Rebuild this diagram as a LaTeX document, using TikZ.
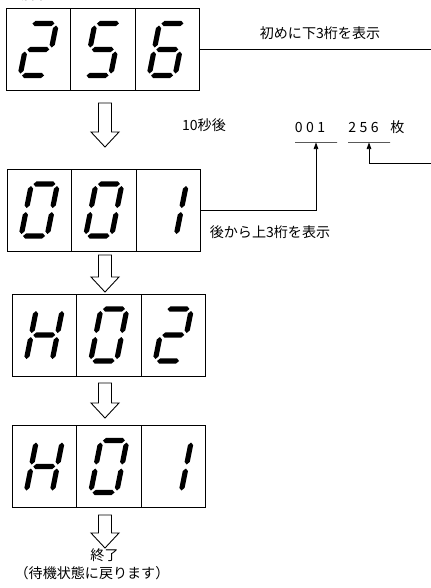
\documentclass[tikz,border=0pt]{standalone}
\usepackage{fontspec}
\setmainfont{Noto Sans CJK JP}
\usetikzlibrary{arrows.meta,positioning}

\tikzset{
  cell/.style={draw, line width=0.75pt, minimum width=1.935cm, minimum height=2.46cm,
    inner sep=0pt, outer sep=0pt},
  conn/.style={line width=0.7pt},
  tip/.style={-{Triangle[length=2mm,width=1.4mm]}},
  uline/.style={draw, line width=0.7pt, minimum width=1.26cm, minimum height=0pt, inner sep=0pt},
  lbl/.style={font=\fontsize{12pt}{14pt}\selectfont, inner sep=0pt},
  pics/fatarrow/.style={code={
    \draw[line width=0.75pt, fill=white] (-6.5,0) -- (6.5,0) -- (6.5,#1-15) -- (14,#1-15)
      -- (0,#1) -- (-14,#1-15) -- (-6.5,#1-15) -- cycle;}}
}

% lit segments of a seven-segment digit
\newcommand\hseg[1]{\fill (-11,#1) -- (-8.4,#1-2.6) -- (8.4,#1-2.6) -- (11,#1) -- (8.4,#1+2.6) -- (-8.4,#1+2.6) -- cycle;}
\newcommand\vseg[2]{\fill (#1,#2-11) -- (#1+2.6,#2-8.4) -- (#1+2.6,#2+8.4) -- (#1,#2+11) -- (#1-2.6,#2+8.4) -- (#1-2.6,#2-8.4) -- cycle;}
\newcommand\segA{\hseg{-26}}
\newcommand\segB{\vseg{13}{-13}}
\newcommand\segC{\vseg{13}{13}}
\newcommand\segD{\hseg{26}}
\newcommand\segE{\vseg{-13}{13}}
\newcommand\segF{\vseg{-13}{-13}}
\newcommand\segG{\hseg{0}}
\newcommand\sevenseg[2]{\begin{scope}[shift={(#1.center)}, xslant=0.2]
  \foreach \s in {#2} {\csname seg\s\endcsname}
\end{scope}}

\begin{document}
\begin{tikzpicture}[x=0.03cm, y=-0.03cm]
  \useasboundingbox (0,0) rectangle (431,588);

  \node[lbl, font=\fontsize{13pt}{15pt}\selectfont, anchor=base east] (cap) at (60,0) {した場合。};

  % display 1: 256
  \node[cell] (a1) at (38.25,49.5) {};
  \node[cell, right=0pt of a1] (a2) {};
  \node[cell, right=0pt of a2] (a3) {};
  \sevenseg{a1}{A,B,G,E,D}
  \sevenseg{a2}{A,F,G,C,D}
  \sevenseg{a3}{A,F,G,E,D,C}

  % display 2: 001
  \node[cell] (b1) at (39.25,210) {};
  \node[cell, right=0pt of b1] (b2) {};
  \node[cell, right=0pt of b2] (b3) {};
  \sevenseg{b1}{A,B,C,D,E,F}
  \sevenseg{b2}{A,B,C,D,E,F}
  \sevenseg{b3}{B,C}

  % display 3: H02
  \node[cell] (c1) at (44.25,335) {};
  \node[cell, right=0pt of c1] (c2) {};
  \node[cell, right=0pt of c2] (c3) {};
  \sevenseg{c1}{B,C,E,F,G}
  \sevenseg{c2}{A,B,C,D,E,F}
  \sevenseg{c3}{A,B,G,E,D}

  % display 4: H01
  \node[cell] (d1) at (44.25,466.5) {};
  \node[cell, right=0pt of d1] (d2) {};
  \node[cell, right=0pt of d2] (d3) {};
  \sevenseg{d1}{B,C,E,F,G}
  \sevenseg{d2}{A,B,C,D,E,F}
  \sevenseg{d3}{B,C}

  \pic (arr1) at (105,103) {fatarrow=44};
  \pic (arr2) at (105,255) {fatarrow=37};
  \pic (arr3) at (105,383) {fatarrow=35};
  \pic (arr4) at (105,515) {fatarrow=33};

  \node[lbl] (first) at (320,33) {初めに下3桁を表示};
  \node[lbl] (wait) at (204,125) {10秒後};
  \node[lbl] (hi) at (310,127) {0\hspace{3pt}0\hspace{3pt}1};
  \node[lbl] (lo) at (363.5,127) {2\hspace{3pt}5\hspace{3pt}6};
  \node[lbl] (unit) at (397.5,127) {枚};
  \node[uline] (u1) at (316,142) {};
  \node[uline] (u2) at (369,142) {};
  \node[lbl] (then) at (270,232) {後から上3桁を表示};
  \node[lbl] (done) at (104.5,555) {終了};
  \node[lbl] (back) at (92,573) {（待機状態に戻ります）};

  \coordinate (bend) at (437,163);
  \draw[conn, tip] (a3.east) -| (bend) -| (u2.south);
  \draw[conn, tip] (b3.east) -| (u1.south);
\end{tikzpicture}
\end{document}
